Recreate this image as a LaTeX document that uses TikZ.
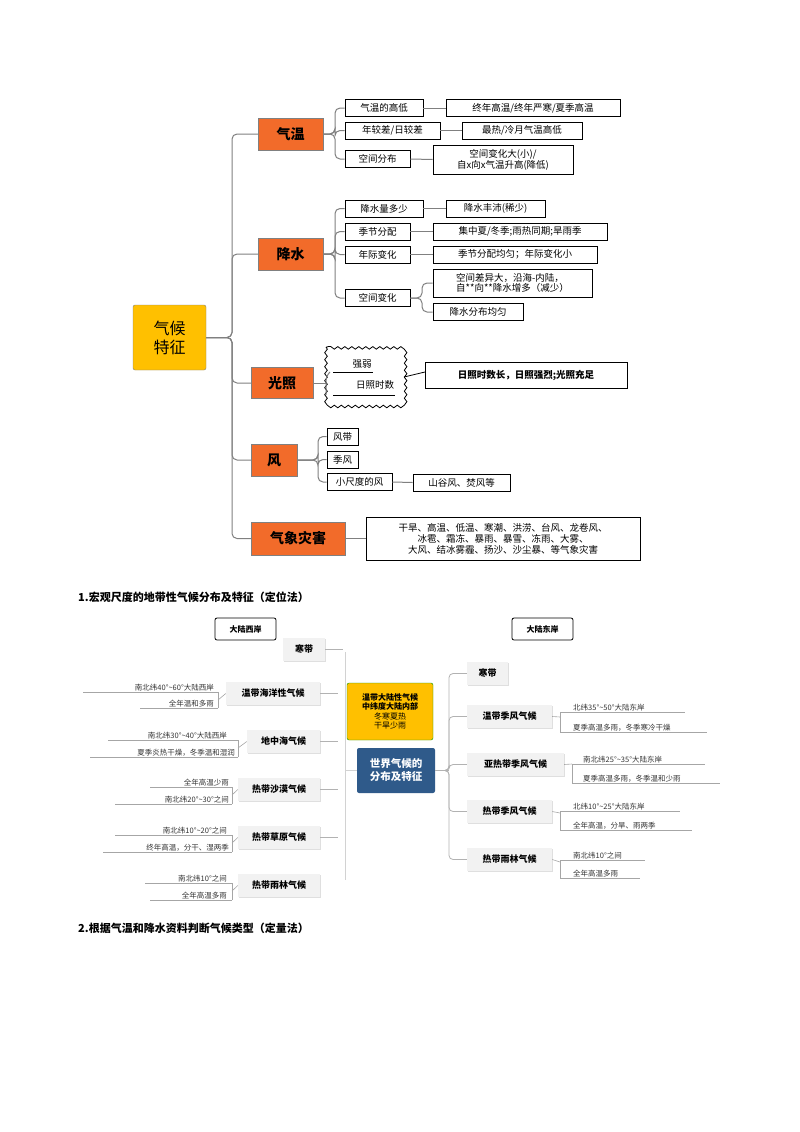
\documentclass[tikz,border=0pt]{standalone}
\usepackage{fontspec}
\setmainfont{Noto Sans CJK SC}
\usetikzlibrary{decorations.pathmorphing,shadows}
\definecolor{org}{HTML}{F26B2A}
\definecolor{gold}{HTML}{FFC000}
\definecolor{navy}{HTML}{2F5A8A}
\definecolor{ln}{HTML}{808080}
\tikzset{
 main/.style={draw=gray,fill=org,font=\fontsize{14}{16}\selectfont\bfseries,inner sep=0pt},
 leaf/.style={draw=black,thick,fill=white,font=\fontsize{9.5}{10.5}\selectfont,inner sep=0pt,minimum height=17pt},
 conn/.style={draw=ln,line width=1pt,rounded corners=5pt},
 gbox/.style={fill=gray!10,font=\fontsize{9}{11}\selectfont\bfseries,inner sep=0pt,minimum height=23pt,drop shadow={opacity=0.25,shadow xshift=1pt,shadow yshift=-1pt}},
 lbl/.style={draw=black,thick,rounded corners=2pt,fill=white,font=\fontsize{8}{10}\selectfont\bfseries,minimum width=61pt,minimum height=22pt,inner sep=0pt},
 annot/.style={font=\fontsize{7.5}{9}\selectfont,inner sep=1pt,text=black!80},
 aline/.style={draw=gray!70,line width=0.6pt},
 bconn/.style={draw=gray!60,line width=0.8pt,rounded corners=4pt},
}
\newcommand{\annL}[6]{\node[annot,anchor=south east] (#1) at (#3,#4) {#6}; \draw[aline] (#2,#4) -- (#5,#4);}
\begin{document}
\begin{tikzpicture}[x=1pt,y=-1pt]
\useasboundingbox (0,0) rectangle (800,1132);
% ===== top mind map =====
\node[draw=gray,fill=gold,rounded corners=2pt,minimum width=73pt,minimum height=65pt,font=\fontsize{16}{19}\selectfont,align=center] (root) at (169.5,337.5) {气候\\特征};
\node[main,minimum width=65pt,minimum height=32pt] (qw) at (290.5,134) {气温};
\node[main,minimum width=65pt,minimum height=32pt] (js) at (290.5,254) {降水};
\node[main,minimum width=62pt,minimum height=31pt] (gz) at (282,383) {光照};
\node[main,minimum width=46pt,minimum height=32pt] (fe) at (274,460) {风};
\node[main,minimum width=94pt,minimum height=33pt] (zh) at (298,538.5) {气象灾害};
\foreach \n/\y in {qw/134,js/254,gz/383,fe/460,zh/538.5}
  \draw[conn] (root.east) -- (232,337.5) |- (\n.west);
% 气温
\node[leaf,minimum width=78pt] (a1) at (384,108) {气温的高低};
\node[leaf,minimum width=174pt] (a1r) at (533,108) {终年高温/终年严寒/夏季高温};
\node[leaf,minimum width=95pt] (a2) at (392.5,130.5) {年较差/日较差};
\node[leaf,minimum width=120pt] (a2r) at (522,130.5) {最热/冷月气温高低};
\node[leaf,minimum width=65pt] (a3) at (377.5,159) {空间分布};
\node[leaf,minimum width=140pt,minimum height=29pt,align=center,font=\fontsize{9.5}{9.5}\selectfont] (a3r) at (503,159.5) {空间变化大(小)/\\自x向x气温升高(降低)};
\foreach \c in {a1,a2,a3} \draw[conn] (qw.east) -- (335,134) |- (\c.west);
\foreach \c in {a1,a2,a3} \draw[conn] (\c.east) -- (\c r.west);
% 降水
\node[leaf,minimum width=78pt] (b1) at (384,208.5) {降水量多少};
\node[leaf,minimum width=99pt] (b1r) at (495.5,208.5) {降水丰沛(稀少)};
\node[leaf,minimum width=65pt] (b2) at (377.5,231.5) {季节分配};
\node[leaf,minimum width=174pt] (b2r) at (520,231.5) {集中夏/冬季;雨热同期;旱雨季};
\node[leaf,minimum width=65pt] (b3) at (377.5,254.5) {年际变化};
\node[leaf,minimum width=164pt] (b3r) at (515,254.5) {季节分配均匀；年际变化小};
\node[leaf,minimum width=65pt] (b4) at (377.5,298) {空间变化};
\node[leaf,minimum width=159pt,minimum height=28pt,align=left,font=\fontsize{9.5}{9.5}\selectfont] (b4r) at (512.5,283) {空间差异大，沿海-内陆，\\自**向**降水增多（减少）};
\node[leaf,minimum width=90pt] (b5r) at (478,312) {降水分布均匀};
\foreach \c in {b1,b2,b3,b4} \draw[conn] (js.east) -- (335,254) |- (\c.west);
\foreach \c in {b1,b2,b3} \draw[conn] (\c.east) -- (\c r.west);
\draw[conn] (b4.east) -- (422,298) |- (b4r.west);
\draw[conn] (b4.east) -- (422,298) |- (b5r.west);
% 光照
\draw[thick,decorate,decoration={snake,segment length=7pt,amplitude=1.3pt}] (326,347) rectangle (404,403);
\node[font=\fontsize{9.5}{11}\selectfont,inner sep=1pt] (g1) at (362,364) {强弱};
\node[font=\fontsize{9.5}{11}\selectfont,inner sep=1pt] (g2) at (375,385) {日照时数};
\draw[thick] (333,372) -- (373,372);
\draw[thick] (333,395) -- (395,395);
\draw[conn] (gz.east) -- (326,383);
\draw[conn] (330,372) -- (326,376) -- (326,395);
\node[leaf,minimum width=202pt,minimum height=26pt,font=\fontsize{9.5}{11}\selectfont\bfseries] (gzr) at (526,375) {日照时数长，日照强烈;光照充足};
\draw[thick] (404,377) -- (425,372);
% 风
\node[leaf,minimum width=31pt] (c1) at (342.5,436.5) {风带};
\node[leaf,minimum width=31pt] (c2) at (342.5,459.5) {季风};
\node[leaf,minimum width=65pt] (c3) at (359.5,482) {小尺度的风};
\node[leaf,minimum width=97pt] (c3r) at (461.5,482.5) {山谷风、焚风等};
\foreach \c in {c1,c2,c3} \draw[conn] (fe.east) -- (318,460) |- (\c.west);
\draw[conn] (c3.east) -- (c3r.west);
% 灾害
\node[leaf,minimum width=274pt,minimum height=43pt,align=center,font=\fontsize{9.5}{11}\selectfont] (zhr) at (503,538.5) {干旱、高温、低温、寒潮、洪涝、台风、龙卷风、\\冰雹、霜冻、暴雨、暴雪、冻雨、大雾、\\大风、结冰雾霾、扬沙、沙尘暴、等气象灾害};
\draw[conn] (zh.east) -- (zhr.west);
% ===== headings =====
\node[anchor=west,font=\fontsize{11}{13}\selectfont\bfseries,inner sep=0pt] (h1) at (78,597) {1.宏观尺度的地带性气候分布及特征（定位法）};
\node[anchor=west,font=\fontsize{11}{13}\selectfont\bfseries,inner sep=0pt] (h2) at (78,928) {2.根据气温和降水资料判断气候类型（定量法）};
% ===== world climate =====
\node[lbl] (west) at (245.5,629) {大陆西岸};
\node[lbl] (east) at (542.5,629) {大陆东岸};
\node[gbox,minimum width=42pt] (d0) at (304,649.5) {寒带};
\node[gbox,minimum width=94pt] (d1) at (273,693.5) {温带海洋性气候};
\node[gbox,minimum width=73pt] (d2) at (283.5,741.5) {地中海气候};
\node[gbox,minimum width=82pt] (d3) at (279,789.5) {热带沙漠气候};
\node[gbox,minimum width=82pt] (d4) at (279,837.5) {热带草原气候};
\node[gbox,minimum width=82pt] (d5) at (279,885.5) {热带雨林气候};
\node[draw=green!60!black,fill=gold,rounded corners=2pt,minimum width=86pt,minimum height=57pt,align=center,inner sep=0pt,font=\fontsize{8}{9.5}\selectfont] (ye) at (390,711.5) {\bfseries 温带大陆性气候\\\bfseries 中纬度大陆内部\\冬寒夏热\\干旱少雨};
\node[fill=navy,rounded corners=2pt,minimum width=78pt,minimum height=45pt,align=center,inner sep=0pt,text=white,font=\fontsize{10.5}{13}\selectfont\bfseries] (bl) at (396,770.5) {世界气候的\\分布及特征};
\node[gbox,minimum width=41pt] (e0) at (487.5,673.5) {寒带};
\node[gbox,minimum width=85pt] (e1) at (509.5,716.5) {温带季风气候};
\node[gbox,minimum width=97pt] (e2) at (515.5,764.5) {亚热带季风气候};
\node[gbox,minimum width=85pt] (e3) at (509.5,811.5) {热带季风气候};
\node[gbox,minimum width=85pt] (e4) at (509.5,859.5) {热带雨林气候};
% left bracket
\draw[bconn,draw=gray!35] (bl.west) -- (345,770.5);
\draw[bconn,draw=gray!35] (345,652) -- (345,880);
\foreach \n in {d0,d1,d2,d3,d4} \draw[bconn] (\n.east) -- ++(18,0);
% right connectors
\draw[bconn] (bl.east) -- (449,770.5);
\foreach \n in {e0,e1,e2,e3,e4} \draw[bconn] (bl.east) -- (449,770.5) |- (\n.west);
% left annotations
\annL{l1a}{83}{215}{692}{218}{南北纬40°\textasciitilde60°大陆西岸}
\annL{l1b}{140}{215}{708}{218}{全年温和多雨}
\draw[aline] (218,692) -- (218,708); \draw[aline] (218,700) -- (d1.west);
\annL{l2a}{108}{228}{740}{238}{南北纬30°\textasciitilde40°大陆西岸}
\annL{l2b}{90}{236}{757}{238}{夏季炎热干燥，冬季温和湿润}
\draw[aline] (238,740) -- (238,757); \draw[aline] (238,748) -- (d2.west);
\annL{l3a}{150}{230}{787}{232}{全年高温少雨}
\annL{l3b}{115}{230}{804}{232}{南北纬20°\textasciitilde30°之间}
\draw[aline] (232,787) -- (232,804); \draw[aline] (232,795) -- (d3.west);
\annL{l4a}{115}{228}{835}{232}{南北纬10°\textasciitilde20°之间}
\annL{l4b}{103}{230}{852}{232}{终年高温，分干、湿两季}
\draw[aline] (232,835) -- (232,852); \draw[aline] (232,843) -- (d4.west);
\annL{l5a}{145}{228}{883}{232}{南北纬10°之间}
\annL{l5b}{150}{228}{900}{232}{全年高温多雨}
\draw[aline] (232,883) -- (232,900); \draw[aline] (232,891) -- (d5.west);
% right annotations
\node[annot,anchor=south west] (r1a) at (572,712) {北纬35°\textasciitilde50°大陆东岸};
\node[annot,anchor=south west] (r1b) at (572,732) {夏季高温多雨，冬季寒冷干燥};
\draw[aline] (560,712) -- (685,712); \draw[aline] (560,732) -- (707,732); \draw[aline] (560,712) -- (560,732); \draw[aline] (e1.east) -- (560,717);
\node[annot,anchor=south west] (r2a) at (582,764) {南北纬25°\textasciitilde35°大陆东岸};
\node[annot,anchor=south west] (r2b) at (582,783) {夏季高温多雨，冬季温和少雨};
\draw[aline] (572,764) -- (705,764); \draw[aline] (572,783) -- (720,783); \draw[aline] (572,764) -- (572,783); \draw[aline] (e2.east) -- (572,764);
\node[annot,anchor=south west] (r3a) at (572,811) {北纬10°\textasciitilde25°大陆东岸};
\node[annot,anchor=south west] (r3b) at (572,830) {全年高温，分旱、雨两季};
\draw[aline] (560,811) -- (680,811); \draw[aline] (560,830) -- (692,830); \draw[aline] (560,811) -- (560,830); \draw[aline] (e3.east) -- (560,813);
\node[annot,anchor=south west] (r4a) at (572,860) {南北纬10°之间};
\node[annot,anchor=south west] (r4b) at (572,878) {全年高温多雨};
\draw[aline] (560,860) -- (645,860); \draw[aline] (560,878) -- (640,878); \draw[aline] (560,860) -- (560,878); \draw[aline] (e4.east) -- (560,862);
\end{tikzpicture}
\end{document}
